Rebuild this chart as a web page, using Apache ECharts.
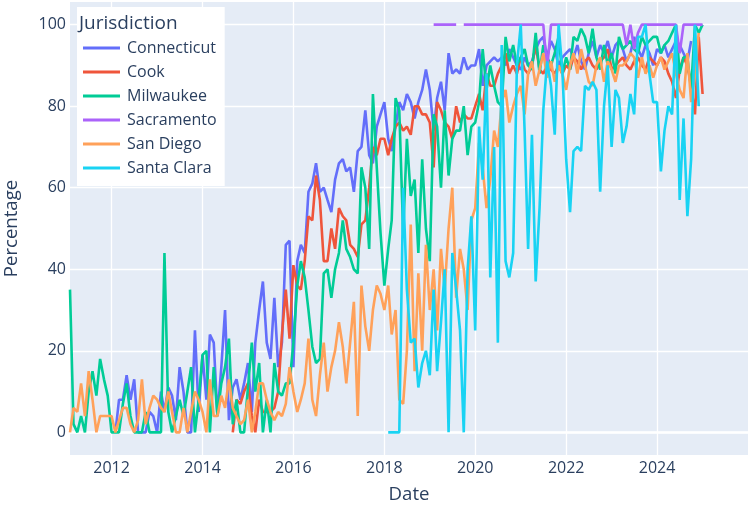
<!DOCTYPE html>
<html lang="en">
<head>
<meta charset="UTF-8">
<title>Percentage by jurisdiction</title>
<script src="https://cdn.jsdelivr.net/npm/echarts@6/dist/echarts.min.js"></script>
</head>
<body style="margin:0">
<div id="chart" style="width:750px;height:509px;"></div>
<script>
// legend order and plotly default colours
var jurisdictions = ['Connecticut', 'Cook', 'Milwaukee', 'Sacramento', 'San Diego', 'Santa Clara'];
var colors = ['#636efa', '#EF553B', '#00cc96', '#ab63fa', '#FFA15A', '#19d3f3'];
var yTicks = [0, 20, 40, 60, 80, 100];
var xTickYears = [2012, 2014, 2016, 2018, 2020, 2022, 2024];

// first month of each series (monthly values follow)
var starts = {
    'Connecticut': '2012-02',
    'Cook': '2014-09',
    'Milwaukee': '2011-02',
    'Sacramento': '2019-02',
    'San Diego': '2011-02',
    'Santa Clara': '2018-02'
};

var connecticut = [
    0, 8, 8, 14, 8, 13, 0, 0, 0, 5, 4,
    0, 10, 5, 11, 9, 3, 16, 10, 0, 0, 25, 5,
    19, 8, 24, 22, 4, 16, 30, 3, 11, 13, 8, 12,
    17, 5, 22, 30, 37, 22, 18, 33, 16, 22, 46, 47,
    16, 42, 46, 44, 59, 61, 66, 59, 60, 57, 54, 62,
    66, 67, 64, 65, 59, 69, 70, 79, 68, 66, 75, 78,
    81, 72, 69, 75, 81, 79, 83, 81, 77, 81, 84, 89,
    84, 74, 82, 86, 79, 93, 88, 89, 88, 92, 89, 90,
    90, 94, 85, 90, 91, 92, 91, 92, 90, 94, 92, 90,
    89, 92, 90, 91, 94, 96, 97, 92, 96, 94, 90, 92,
    93, 94, 92, 95, 91, 89, 93, 96, 92, 95, 93, 96,
    92, 95, 96, 94, 91, 93, 97, 94, 92, 95, 93, 90,
    94, 93, 95, 92, 94, 96, 95, 93, 91, 96
];
var cook = [
    0, 8, 7, 10,
    12, 4, 0, 8, 5, 5, 5, 6, 10, 24, 35, 23,
    41, 36, 35, 42, 53, 52, 63, 57, 42, 42, 50, 45,
    55, 53, 52, 46, 45, 43, 51, 52, 60, 70, 68, 72,
    72, 68, 72, 75, 76, 74, 75, 73, 80, 80, 78, 78,
    76, 65, 81, 79, 76, 75, 72, 80, 76, 78, 77, 77,
    80, 83, 79, 88, 85, 85, 88, 90, 93, 88, 90, 88,
    92, 89, 88, 90, 95, 89, 88, 90, 89, 88, 90, 88,
    90, 89, 92, 91, 89, 91, 92, 90, 89, 91, 92, 94,
    89, 90, 91, 92, 90, 89, 91, 92, 90, 89, 92, 91,
    90, 92, 91, 88, 86, 82, 89, 92, 90, 85, 78, 97,
    83
];
var milwaukee = [
    35, 2, 0, 4, 0, 10, 15, 9, 18, 13, 9,
    0, 0, 0, 7, 12, 4, 0, 0, 0, 5, 0, 0,
    0, 0, 44, 5, 0, 4, 8, 4, 10, 16, 0, 8,
    19, 20, 0, 16, 4, 12, 16, 23, 2, 8, 0, 0,
    11, 22, 10, 17, 0, 8, 0, 17, 10, 9, 12, 12,
    22, 36, 42, 38, 30, 21, 17, 18, 39, 40, 33, 40,
    44, 52, 45, 43, 40, 39, 65, 60, 45, 83, 65, 49,
    36, 45, 52, 82, 79, 49, 72, 58, 62, 44, 67, 50,
    42, 78, 75, 60, 79, 63, 72, 74, 74, 80, 68, 75,
    76, 81, 94, 84, 90, 85, 81, 80, 97, 91, 95, 90,
    92, 94, 90, 89, 98, 88, 95, 92, 90, 93, 97, 88,
    92, 89, 97, 96, 99, 97, 93, 99, 92, 89, 95, 90,
    93, 88, 97, 94, 95, 96, 94, 93, 97, 95, 96, 97,
    97, 93, 95, 96, 98, 100, 88, 92, 92, 84, 100, 98,
    100
];
var sacramento = [
    100, 100, 100, 100, 100, 100, 100, null, 100, 100, 100,
    100, 100, 100, 100, 100, 100, 100, 100, 100, 100, 100, 100,
    100, 100, 100, 100, 100, 100, 100, 89, 100, 100, 100, 100,
    100, 100, 100, 100, 100, 100, 100, 100, 100, 100, 100, 100,
    100, 100, 100, 100, 95, 100, 94, 98, 100, 100, 100, 100,
    100, 100, 100, 100, 100, 100, 93, 100, 100, 100, 100, 100,
    100
];
var sanDiego = [
    0, 6, 5, 12, 4, 15, 8, 0, 4, 4, 4,
    4, 0, 3, 6, 6, 2, 0, 3, 13, 2, 6, 9,
    8, 6, 5, 10, 5, 0, 0, 6, 0, 5, 10, 8,
    5, 0, 13, 4, 4, 9, 6, 13, 6, 4, 2, 3,
    8, 0, 5, 12, 12, 8, 5, 3, 5, 4, 7, 16,
    10, 5, 8, 12, 23, 8, 4, 14, 22, 10, 16, 20,
    27, 21, 12, 22, 32, 4, 36, 26, 20, 30, 36, 34,
    30, 36, 24, 30, 8, 7, 20, 51, 15, 39, 20, 46,
    30, 40, 25, 45, 35, 50, 60, 33, 45, 40, 30, 52,
    55, 71, 65, 55, 62, 74, 70, 81, 84, 76, 80, 83,
    85, 78, 88, 91, 85, 89, 93, 87, 91, 86, 90, 88,
    84, 90, 93, 88, 94, 90, 86, 85, 90, 92, 86, 91,
    89, 86, 90, 90, 91, 93, 92, 87, 92, 88, 90, 87,
    90, 92, 89, 91, 93, 88, 84, 82, 93, 81, 88, 98
];
var santaClara = [
    0, 0, 0, 0, 60, 35, 22, 23, 11, 17, 20,
    14, 35, 15, 27, 40, 0, 44, 35, 25, 0, 40, 53,
    25, 75, 62, 88, 38, 70, 22, 95, 42, 38, 44, 90,
    100, 74, 45, 73, 37, 55, 79, 91, 85, 73, 100, 89,
    67, 54, 69, 70, 69, 85, 84, 86, 84, 59, 80, 90,
    70, 84, 82, 71, 75, 83, 78, 97, 97, 100, 88, 81,
    81, 64, 74, 80, 78, 100, 57, 77, 53, 67, 100, 80
];

var valuesByName = {
    'Connecticut': connecticut,
    'Cook': cook,
    'Milwaukee': milwaukee,
    'Sacramento': sacramento,
    'San Diego': sanDiego,
    'Santa Clara': santaClara
};

// turn a start month and a list of monthly values into [timestamp, value] pairs
function monthlyPairs(start, vals) {
    var y = +start.slice(0, 4);
    var m0 = +start.slice(5, 7) - 1;
    var out = [];
    for (var i = 0; i < vals.length; i++) {
        out.push([new Date(y, m0 + i, 1).getTime(), vals[i]]);
    }
    return out;
}

var xTickValues = xTickYears.map(function (yr) {
    return new Date(yr, 0, 1).getTime();
});

var textColor = '#2a3f5f';
var fontFamily = '"Open Sans", verdana, arial, sans-serif';

var myChart = echarts.init(document.getElementById('chart'));

var option = {
    animation: false,
    backgroundColor: '#fff',
    textStyle: { fontFamily: fontFamily },
    color: colors,
    grid: {
        left: 70, right: 2, top: 2, bottom: 54,
        outerBoundsMode: 'none',
        backgroundColor: '#E5ECF6', show: true, borderWidth: 0
    },
    title: {
        text: 'Jurisdiction',
        left: 74,
        top: 9,
        textStyle: { fontFamily: fontFamily, fontSize: 19, fontWeight: 'normal', color: textColor }
    },
    legend: {
        data: jurisdictions,
        orient: 'vertical',
        left: 77,
        top: 7,
        padding: [29, 8, 6, 6],
        backgroundColor: '#fff',
        icon: 'rect',
        itemWidth: 37,
        itemHeight: 3,
        itemGap: 0,
        textStyle: { fontFamily: fontFamily, fontSize: 16, color: textColor, lineHeight: 24, padding: [0, 0, 0, 2] }
    },
    xAxis: {
        type: 'value',
        min: new Date(2011, 1, 1).getTime(),
        max: new Date(2026, 0, 1).getTime(),
        name: 'Date',
        nameLocation: 'middle',
        nameGap: 30,
        nameTextStyle: { fontSize: 18.6, color: textColor },
        axisLine: { show: true, onZero: true, lineStyle: { color: '#fff', width: 2.6 } },
        axisTick: { show: false, customValues: xTickValues },
        axisLabel: {
            customValues: xTickValues,
            fontSize: 16,
            color: textColor,
            margin: 5,
            formatter: function (v) { return new Date(v).getFullYear() + ''; }
        },
        splitLine: { show: true, lineStyle: { color: '#fff', width: 1.3 } }
    },
    yAxis: {
        type: 'value',
        min: -5.56,
        max: 105.56,
        name: 'Percentage',
        nameLocation: 'middle',
        nameGap: 49,
        nameTextStyle: { fontSize: 18.6, color: textColor },
        axisLine: { show: false },
        axisTick: { show: false, customValues: yTicks },
        axisLabel: { customValues: yTicks, fontSize: 16, color: textColor, margin: 4 },
        splitLine: { show: true, lineStyle: { color: '#fff', width: 1.3 } }
    },
    series: jurisdictions.map(function (name) {
        return {
            name: name,
            type: 'line',
            data: monthlyPairs(starts[name], valuesByName[name]),
            showSymbol: false,
            symbol: 'none',
            connectNulls: false,
            lineStyle: { width: 2.6 }
        };
    })
};

myChart.setOption(option);
</script>
</body>
</html>
